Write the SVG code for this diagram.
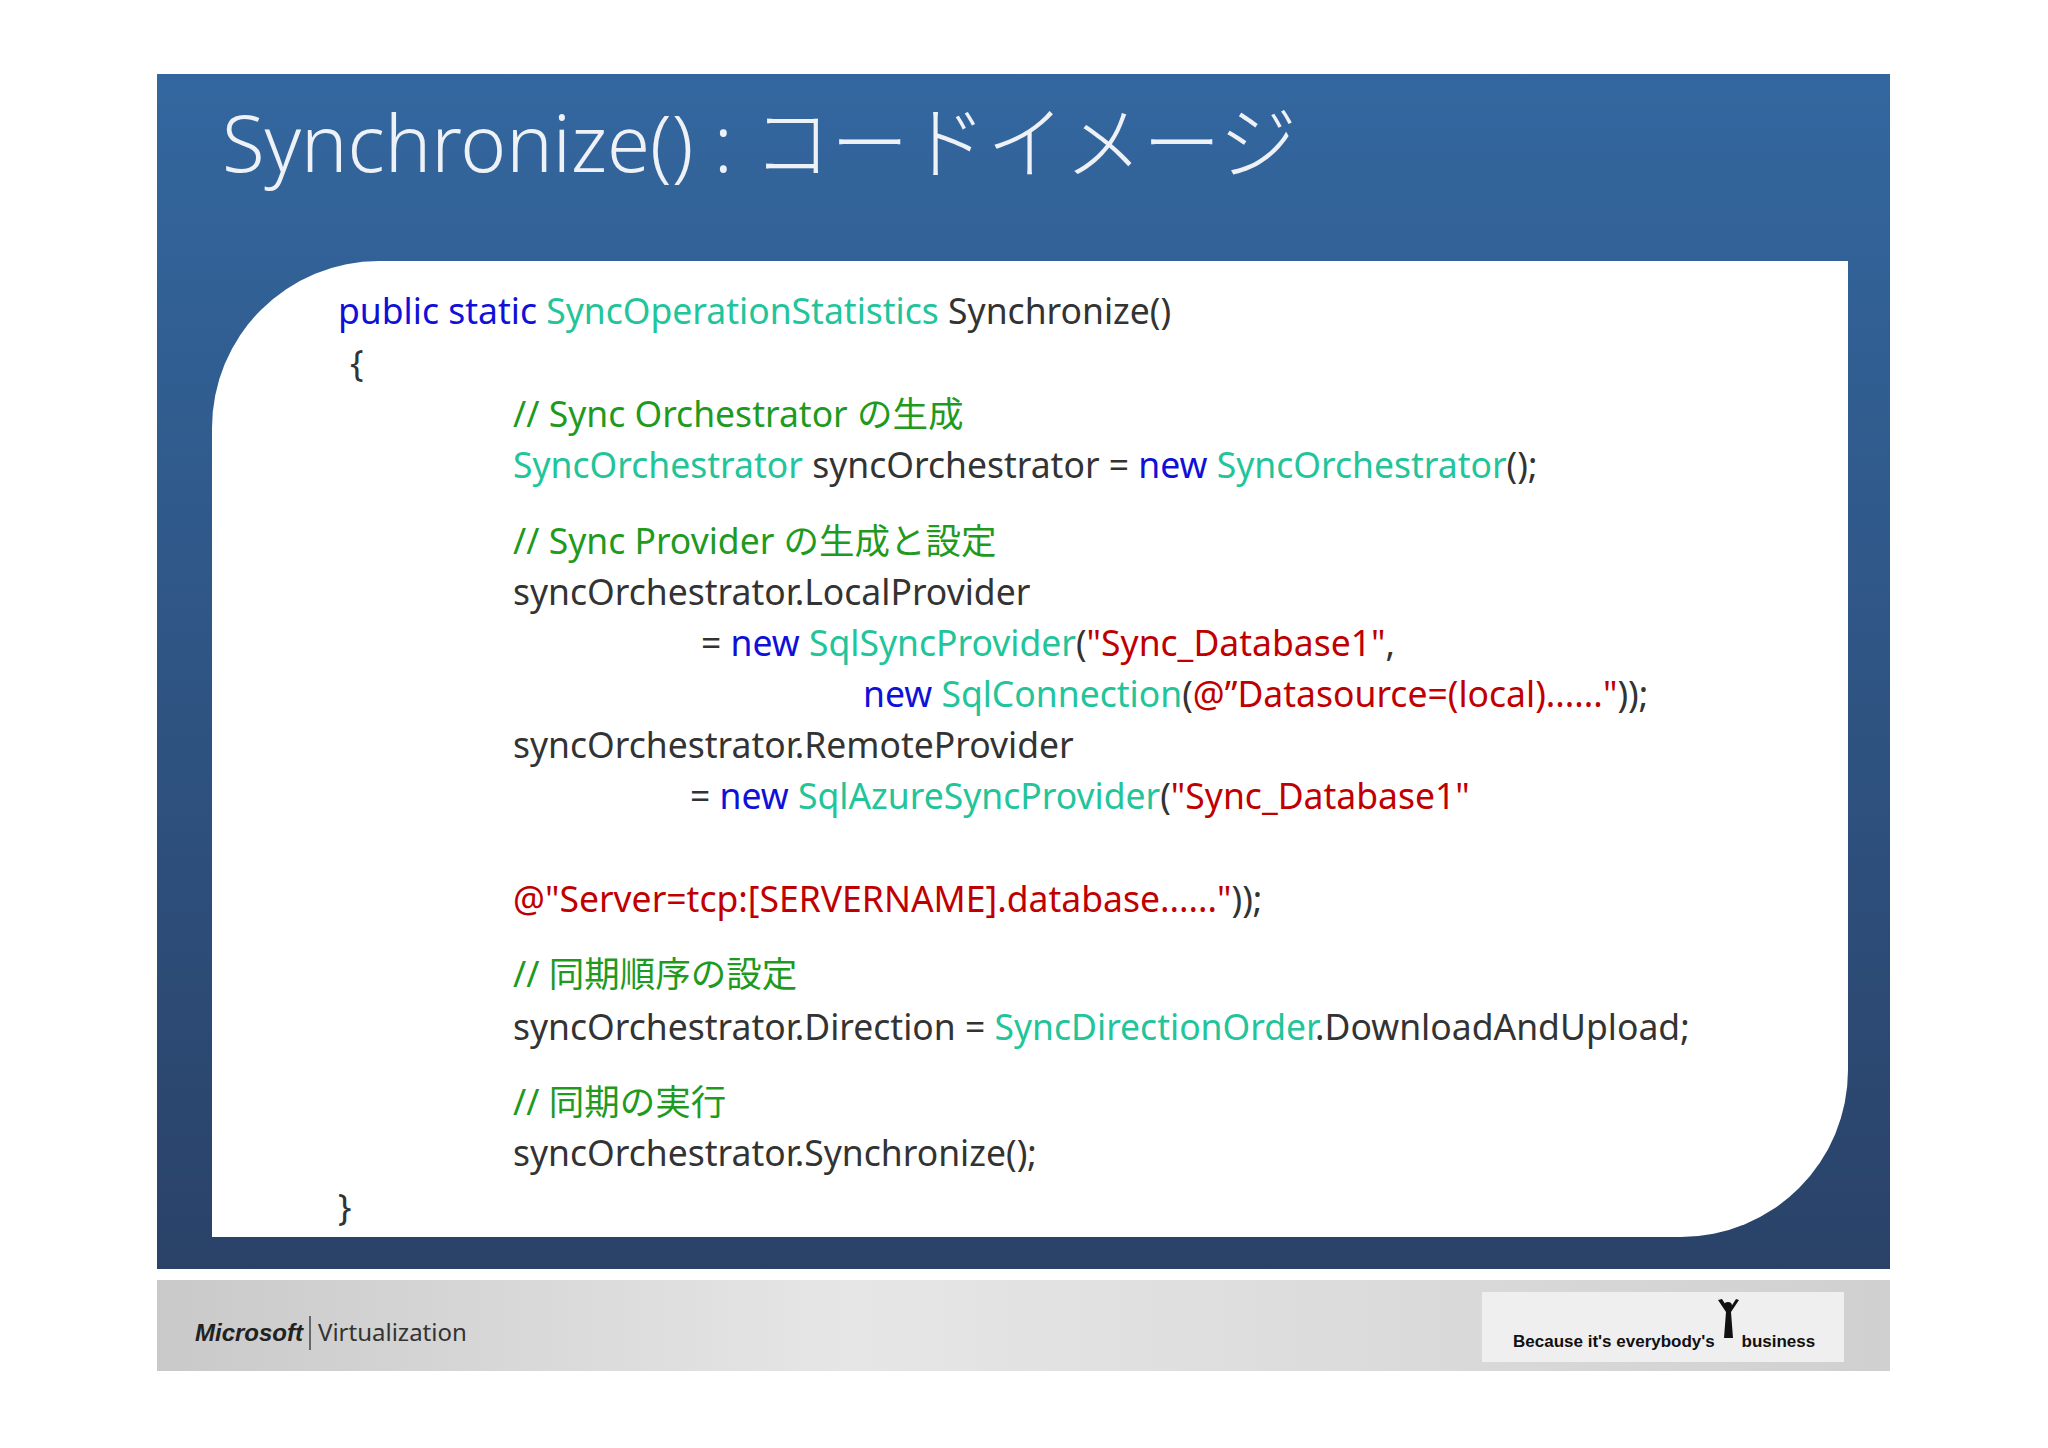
<svg xmlns="http://www.w3.org/2000/svg" width="2048" height="1448" viewBox="0 0 2048 1448">
<defs>
<linearGradient id="bg" x1="0" y1="0" x2="0" y2="1"><stop offset="0" stop-color="#33679f"/><stop offset="1" stop-color="#2a4268"/></linearGradient>
<linearGradient id="ft" x1="0" y1="0" x2="1" y2="0"><stop offset="0" stop-color="#c9c9c9"/><stop offset="0.4" stop-color="#e6e6e6"/><stop offset="1" stop-color="#d0d0d0"/></linearGradient>
<style>
.c{font-family:"Noto Sans","Noto Sans CJK JP",sans-serif;font-size:35.5px;fill:#333}
.k{fill:#1010d8}.t{fill:#22c49a}.g{fill:#1f9a1f}.r{fill:#c00000}
</style>
</defs>
<rect width="2048" height="1448" fill="#fff"/>
<g id="panel"><rect x="157" y="74" width="1733" height="1195" fill="url(#bg)"/></g>
<g id="title"><text x="222" y="172" font-family="'Noto Sans','Noto Sans CJK JP',sans-serif" font-size="80" font-weight="300" fill="#eef2f7" textLength="1075" lengthAdjust="spacingAndGlyphs">Synchronize() : コードイメージ</text></g>
<g id="card"><path d="M379 261 H1848 V1070 A167 167 0 0 1 1681 1237 H212 V428 A167 167 0 0 1 379 261 Z" fill="#fff"/></g>
<g id="code" class="c">
<text class="c" x="338" y="324"><tspan class="k">public static </tspan><tspan class="t">SyncOperationStatistics</tspan> Synchronize()</text>
<text class="c" x="350" y="376">{</text>
<text class="c g" x="513" y="427">// Sync Orchestrator の生成</text>
<text class="c" x="513" y="478"><tspan class="t">SyncOrchestrator</tspan> syncOrchestrator = <tspan class="k">new</tspan> <tspan class="t">SyncOrchestrator</tspan>();</text>
<text class="c g" x="513" y="554">// Sync Provider の生成と設定</text>
<text class="c" x="513" y="605">syncOrchestrator.LocalProvider</text>
<text class="c" x="701" y="656">= <tspan class="k">new</tspan> <tspan class="t">SqlSyncProvider</tspan>(<tspan class="r">"Sync_Database1"</tspan>,</text>
<text class="c" x="863" y="707"><tspan class="k">new</tspan> <tspan class="t">SqlConnection</tspan>(<tspan class="r">@”Datasource=(local)......"</tspan>));</text>
<text class="c" x="513" y="758">syncOrchestrator.RemoteProvider</text>
<text class="c" x="690" y="809">= <tspan class="k">new</tspan> <tspan class="t">SqlAzureSyncProvider</tspan>(<tspan class="r">"Sync_Database1"</tspan></text>
<text class="c r" x="513" y="912">@"Server=tcp:[SERVERNAME].database......"<tspan fill="#333">));</tspan></text>
<text class="c g" x="513" y="987">// 同期順序の設定</text>
<text class="c" x="513" y="1040">syncOrchestrator.Direction = <tspan class="t">SyncDirectionOrder</tspan>.DownloadAndUpload;</text>
<text class="c g" x="513" y="1115">// 同期の実行</text>
<text class="c" x="513" y="1166">syncOrchestrator.Synchronize();</text>
<text class="c" x="338" y="1220">}</text>
</g>
<g id="footer">
<rect x="157" y="1280" width="1733" height="91" fill="url(#ft)"/>
<text x="195" y="1341" font-family="'Liberation Sans',sans-serif" font-size="24" font-weight="bold" font-style="italic" fill="#222">Microsoft</text>
<line x1="310" y1="1316" x2="310" y2="1350" stroke="#444" stroke-width="1.5"/>
<text x="318" y="1341" font-family="'Noto Sans',sans-serif" font-size="24" fill="#333">Virtualization</text>
<rect x="1482" y="1292" width="362" height="70" fill="#efefef"/>
<text x="1513" y="1347" font-family="'Liberation Sans',sans-serif" font-size="17" font-weight="bold" fill="#111">Because it's everybody's <tspan dx="22">business</tspan></text>
<g fill="#111"><circle cx="1728" cy="1306" r="4"/><path d="M1718 1300 L1726 1312 L1724 1338 L1733 1338 L1731 1312 L1739 1300 L1736 1299 L1729 1310 L1722 1299 Z"/></g>
</g>
</svg>
